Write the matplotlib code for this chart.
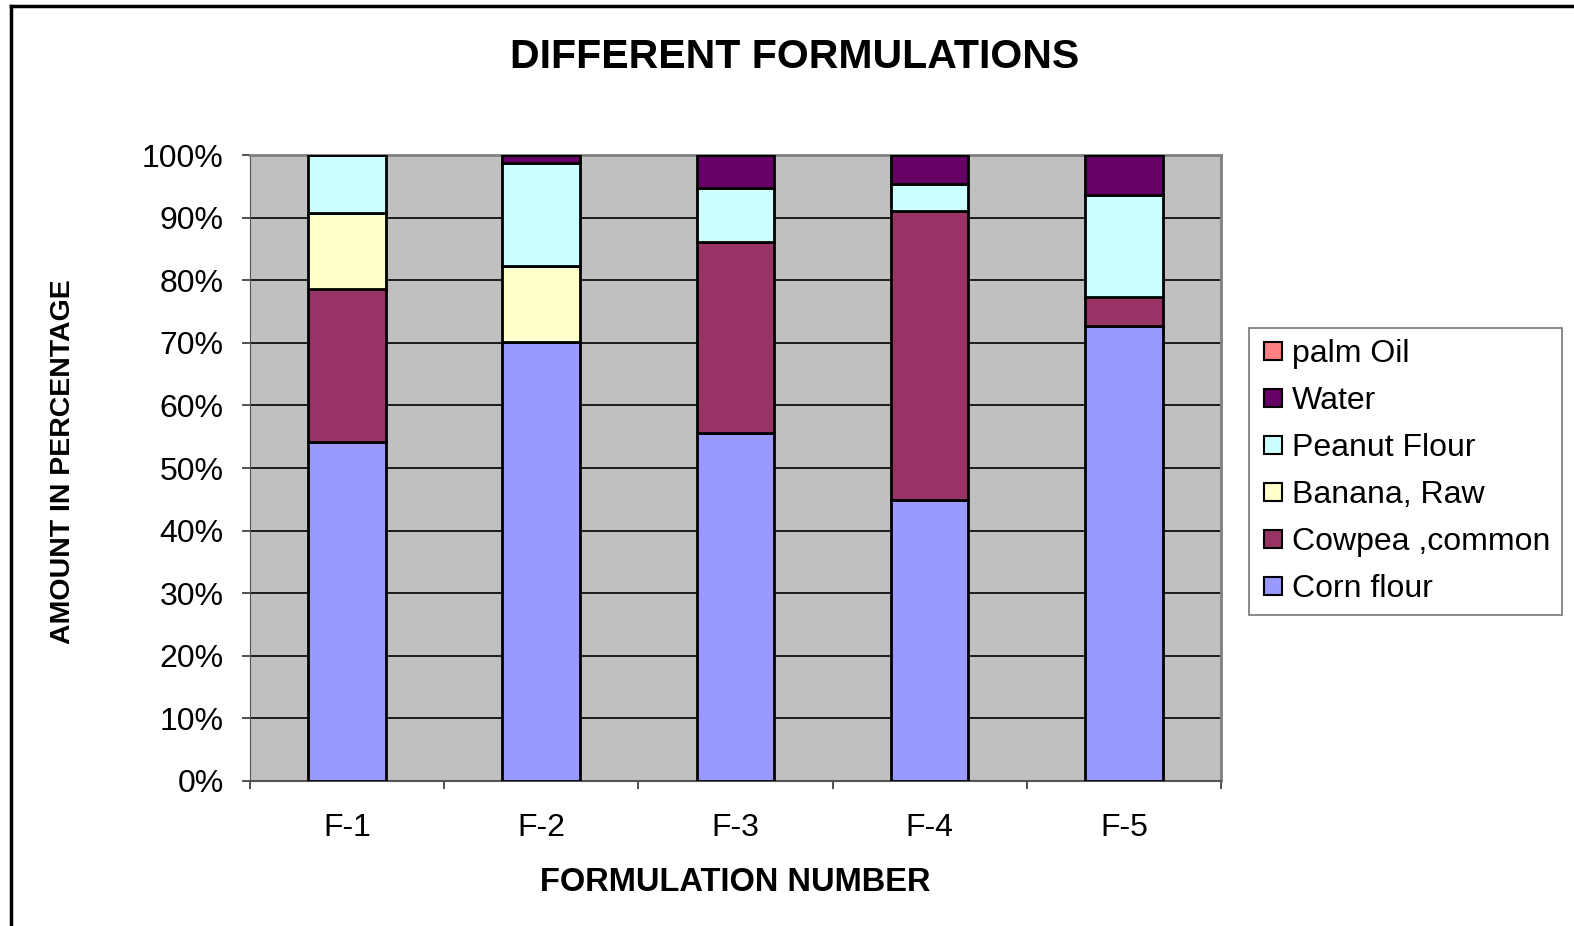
import matplotlib
matplotlib.use('Agg')
import matplotlib.pyplot as plt
import numpy as np
from matplotlib.lines import Line2D
from matplotlib.ticker import FixedLocator, PercentFormatter

plt.rcParams['font.family'] = ['Liberation Sans', 'DejaVu Sans']

formulations = ['F-1', 'F-2', 'F-3', 'F-4', 'F-5']
corn_flour = [54.2, 70.1, 55.6, 44.9, 72.7]
cowpea = [24.4, 0.0, 30.5, 46.2, 4.6]
banana = [12.1, 12.2, 0.0, 0.0, 0.0]
peanut_flour = [9.3, 16.4, 8.6, 4.3, 16.3]
water = [0.0, 1.3, 5.3, 4.6, 6.4]
palm_oil = [0.0, 0.0, 0.0, 0.0, 0.0]

series = [
    ('Corn flour', corn_flour, '#9999FF'),
    ('Cowpea ,common', cowpea, '#993366'),
    ('Banana, Raw', banana, '#FFFFCC'),
    ('Peanut Flour', peanut_flour, '#CCFFFF'),
    ('Water', water, '#660066'),
    ('palm Oil', palm_oil, '#FF8080'),
]

fig = plt.figure(figsize=(15.74, 9.26), dpi=100)
ax = fig.add_axes([0.1588, 0.1566, 0.6169, 0.676])
ax.set_facecolor('#C0C0C0')

x = np.arange(len(formulations))
bottom = np.zeros(len(formulations))
handles = []
for name, vals, col in series:
    vals = np.array(vals)
    ax.bar(x, vals, 0.4, bottom=bottom, color=col, edgecolor='black', linewidth=2, zorder=3)
    bottom += vals
    handles.append(Line2D([], [], marker='s', linestyle='none', markersize=13,
                          markerfacecolor=col, markeredgecolor='black', markeredgewidth=1.5, label=name))

ax.set_xlim(-0.5, len(formulations) - 0.5)
ax.set_ylim(0, 100)
ax.set_yticks(np.arange(0, 101, 10))
ax.yaxis.set_major_formatter(PercentFormatter(decimals=0))
ax.yaxis.grid(True, color='black', linewidth=1.2, zorder=1)
ax.set_axisbelow(True)

ax.set_xticks(x)
ax.set_xticklabels(formulations)
ax.tick_params(axis='x', which='major', length=0, labelsize=23, pad=23)
ax.xaxis.set_minor_locator(FixedLocator(np.arange(-0.5, len(formulations), 1.0)))
ax.tick_params(axis='x', which='minor', length=6, width=1.2, color='#333333')
ax.tick_params(axis='y', labelsize=23, length=6, width=1.2, color='#333333', pad=13)

for side in ['top', 'right']:
    ax.spines[side].set_color('#808080')
    ax.spines[side].set_linewidth(2)
ax.spines['left'].set_color('#555555')
ax.spines['bottom'].set_color('#555555')
ax.spines['bottom'].set_linewidth(1.5)

ax.set_xlabel('FORMULATION NUMBER', fontsize=23.5, fontweight='bold', labelpad=17)
fig.text(0.040, 0.502, 'AMOUNT IN PERCENTAGE', fontsize=20.5, fontweight='bold',
         rotation=90, ha='center', va='center')
fig.text(0.505, 0.938, 'DIFFERENT FORMULATIONS', fontsize=29.5, fontweight='bold', ha='center', va='center')

leg = fig.legend(handles=handles[::-1], loc='upper left', bbox_to_anchor=(0.7935, 0.6458),
                 borderaxespad=0, fontsize=23, frameon=True, fancybox=False, edgecolor='#555555',
                 handletextpad=0.2, labelspacing=0.53, borderpad=0.35, handlelength=0.8)
leg.get_frame().set_linewidth(1.2)

# figure border (left and top)
fig.add_artist(Line2D([0.0068, 0.0068], [0, 0.994], color='black', linewidth=2.5, transform=fig.transFigure))
fig.add_artist(Line2D([0.0068, 1.0], [0.994, 0.994], color='black', linewidth=2.5, transform=fig.transFigure))

fig.savefig('out.png', dpi=100)
